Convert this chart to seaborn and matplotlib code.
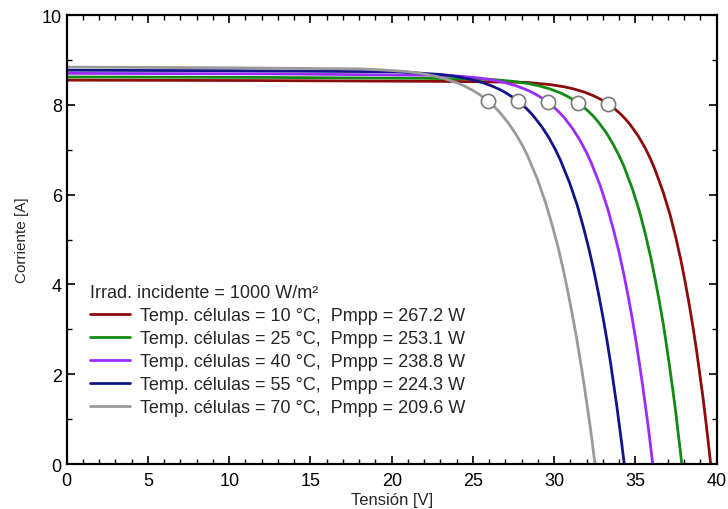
import numpy as np
import pandas as pd
import matplotlib
matplotlib.use("Agg")
import matplotlib.pyplot as plt
import seaborn as sns
from matplotlib.ticker import MultipleLocator

# ---- data ----
temps = [10, 25, 40, 55, 70]
pmpp = [267.2, 253.1, 238.8, 224.3, 209.6]
v_mpp = [33.32, 31.48, 29.63, 27.76, 25.94]
i_mpp = [8.02, 8.04, 8.06, 8.08, 8.08]

v_10 = [0, 12, 24, 28.3, 29.76, 30.63, 31.24, 31.88, 32.43, 32.82, 33.20, 33.66, 34.07, 34.39, 34.69,
        35.18, 35.58, 35.92, 36.21, 36.71, 37.13, 37.48, 37.79, 38.06, 38.31, 38.54, 38.75,
        38.94, 39.13, 39.30, 39.46, 39.55, 39.63]
i_10 = [8.55, 8.54, 8.52, 8.50, 8.45, 8.40, 8.35, 8.28, 8.20, 8.13, 8.05, 7.93, 7.80, 7.68, 7.55,
        7.30, 7.05, 6.80, 6.55, 6.05, 5.55, 5.05, 4.55, 4.05, 3.55, 3.05, 2.55,
        2.05, 1.55, 1.05, 0.55, 0.25, 0]

v_25 = [0, 12, 22, 26.01, 27.55, 28.46, 29.10, 29.77, 30.35, 30.76, 31.15, 31.63, 32.06, 32.40, 32.71,
        33.22, 33.63, 33.99, 34.30, 34.82, 35.25, 35.61, 35.93, 36.21, 36.47, 36.71, 36.92,
        37.12, 37.31, 37.49, 37.65, 37.75, 37.85]
i_25 = [8.62, 8.61, 8.59, 8.57, 8.52, 8.47, 8.42, 8.35, 8.27, 8.20, 8.12, 8.00, 7.87, 7.75, 7.62,
        7.37, 7.12, 6.87, 6.62, 6.12, 5.62, 5.12, 4.62, 4.12, 3.62, 3.12, 2.62,
        2.12, 1.62, 1.12, 0.62, 0.32, 0]

v_40 = [0, 12, 22, 23.73, 25.32, 26.25, 26.91, 27.60, 28.20, 28.62, 29.03, 29.53, 29.97, 30.32, 30.65,
        31.17, 31.60, 31.97, 32.29, 32.83, 33.28, 33.66, 34.00, 34.30, 34.57, 34.82, 35.05,
        35.26, 35.46, 35.65, 35.83, 35.93, 36.06]
i_40 = [8.70, 8.69, 8.66, 8.65, 8.60, 8.55, 8.50, 8.43, 8.35, 8.28, 8.20, 8.08, 7.95, 7.83, 7.70,
        7.45, 7.20, 6.95, 6.70, 6.20, 5.70, 5.20, 4.70, 4.20, 3.70, 3.20, 2.70,
        2.20, 1.70, 1.20, 0.70, 0.40, 0]

v_55 = [0, 10, 20.34, 21.55, 23.19, 24.15, 24.83, 25.54, 26.16, 26.60, 27.01, 27.53, 27.99, 28.34, 28.68,
        29.22, 29.67, 30.05, 30.38, 30.94, 31.41, 31.80, 32.15, 32.46, 32.74, 33.00, 33.24,
        33.46, 33.66, 33.86, 34.04, 34.15, 34.31]
i_55 = [8.77, 8.76, 8.735, 8.71, 8.67, 8.62, 8.57, 8.50, 8.42, 8.35, 8.27, 8.15, 8.02, 7.90, 7.77,
        7.52, 7.27, 7.02, 6.77, 6.27, 5.77, 5.27, 4.77, 4.27, 3.77, 3.27, 2.77,
        2.27, 1.77, 1.27, 0.77, 0.47, 0]

v_70 = [0, 10, 18.02, 19.26, 20.95, 21.95, 22.65, 23.39, 24.02, 24.47, 24.90, 25.44, 25.91, 26.28, 26.63,
        27.19, 27.65, 28.05, 28.39, 28.97, 29.45, 29.86, 30.23, 30.55, 30.84, 31.11, 31.36,
        31.59, 31.81, 32.01, 32.21, 32.32, 32.51]
i_70 = [8.84, 8.825, 8.80, 8.78, 8.74, 8.69, 8.64, 8.57, 8.49, 8.42, 8.34, 8.22, 8.09, 7.97, 7.84,
        7.59, 7.34, 7.09, 6.84, 6.34, 5.84, 5.34, 4.84, 4.34, 3.84, 3.34, 2.84,
        2.34, 1.84, 1.34, 0.84, 0.54, 0]

legend_title = "Irrad. incidente = 1000 W/m²"
colors = ["#8c0c0c", "#138a13", "#9a2cff", "#14148a", "#9a9a9a"]

curves_v = [v_10, v_25, v_40, v_55, v_70]
curves_i = [i_10, i_25, i_40, i_55, i_70]
labels = [f"Temp. células = {t} °C,  Pmpp = {p:.1f} W" for t, p in zip(temps, pmpp)]

rows = []
for lab, vs, is_ in zip(labels, curves_v, curves_i):
    for v, i in zip(vs, is_):
        rows.append({"V": v, "I": i, "serie": lab})
df = pd.DataFrame(rows)
df_mpp = pd.DataFrame({"V": v_mpp, "I": i_mpp})

# ---- styling ----
sns.set_theme(style="ticks")
plt.rcParams["font.family"] = ["Liberation Sans", "DejaVu Sans"]

fig = plt.figure(figsize=(7.28, 5.10), dpi=100)
ax = fig.add_axes([0.0916, 0.0882, 0.8929, 0.8804])

sns.lineplot(data=df, x="V", y="I", hue="serie", hue_order=labels,
             palette=colors, estimator=None, sort=False, linewidth=2.0,
             legend=False, ax=ax)
sns.scatterplot(data=df_mpp, x="V", y="I", s=105, color="white",
                edgecolor="#7a7a7a", linewidth=1.2, zorder=5, ax=ax,
                legend=False)

ax.set_xlim(0, 40)
ax.set_ylim(0, 10)
ax.xaxis.set_major_locator(MultipleLocator(5))
ax.xaxis.set_minor_locator(MultipleLocator(1))
ax.yaxis.set_major_locator(MultipleLocator(2))
ax.yaxis.set_minor_locator(MultipleLocator(1))
ax.tick_params(which="both", direction="in", top=True, right=True,
               colors="black", labelsize=13)
ax.tick_params(axis="x", which="both", pad=6)
ax.tick_params(axis="y", which="both", pad=3.5)
ax.tick_params(which="major", length=6, width=1.2)
ax.tick_params(which="minor", length=3.5, width=1.0)
for sp in ax.spines.values():
    sp.set_linewidth(1.6)
    sp.set_color("black")
    sp.set_visible(True)

ax.set_xlabel("Tensión [V]", fontsize=12, labelpad=2)
ax.set_ylabel("Corriente [A]", fontsize=11, labelpad=9)

handles = ax.get_lines()[:5]
leg = ax.legend(handles, labels, title=legend_title, loc="upper left",
                bbox_to_anchor=(0.0227, 0.42), frameon=False, fontsize=13,
                title_fontsize=13, handlelength=2.2, handletextpad=0.55,
                labelspacing=0.33, borderpad=0, alignment="left")

fig.savefig("out.png", dpi=100)
